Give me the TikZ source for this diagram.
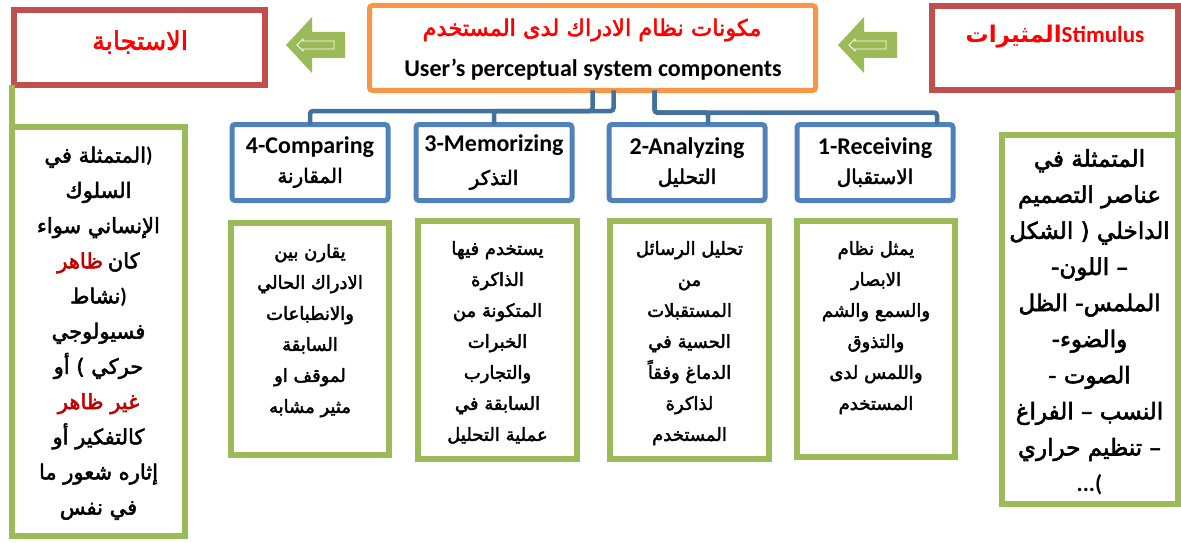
\documentclass[tikz,border=0pt]{standalone}
\usepackage{fontspec}
\usepackage{xcolor}
\usetikzlibrary{positioning,calc}
\setmainfont{Carlito}
\newfontfamily\arabicfont[Script=Arabic,FakeBold=2.4]{DejaVu Sans}
\newfontfamily\arabicthin[Script=Arabic]{DejaVu Sans}
\TeXXeTstate=1
\newcommand{\arab}[1]{{\arabicfont\beginR #1\endR}}
\definecolor{boxred}{HTML}{C0504D}
\definecolor{coreorange}{HTML}{F79646}
\definecolor{headblue}{HTML}{4F81BD}
\definecolor{busblue}{HTML}{41719C}
\definecolor{notegreen}{HTML}{9BBB59}
\definecolor{darkred}{HTML}{C00000}
\tikzset{
	redbox/.style = {draw=boxred, line width=6pt, outer sep=0pt},
	corebox/.style = {draw=coreorange, line width=5pt, rounded corners=3pt, outer sep=0pt},
	headbox/.style = {draw=headblue, line width=5pt, rounded corners=3pt, minimum width=156pt, minimum height=76pt, outer sep=0pt, inner sep=0pt, align=center, font=\fontsize{20}{29}\selectfont},
	notebox/.style = {draw=notegreen, line width=6pt, outer sep=0pt},
	notetext/.style = {align=center, inner sep=0pt, font=\fontsize{18}{31}\selectfont},
	bus/.style = {draw=busblue, line width=4.5pt, rounded corners=3pt},
	link/.style = {draw=notegreen, line width=6pt},
	leftarrow/.pic = {
		\fill [notegreen] (0,0) -- (26,-28) -- (26,-13) -- (59,-13) -- (59,13) -- (26,13) -- (26,28) -- cycle;
		\draw [white, line width=0.8pt] (11,0) -- (17,-6) -- (17,-4) -- (48,-4) -- (48,4) -- (17,4) -- (17,6) -- cycle;
	}
}

\begin{document}
\begin{tikzpicture}[x=1pt, y=-1pt]
	\useasboundingbox (0,0) rectangle (1181,543);
	
	% top row
	\node [redbox, minimum width=251pt, minimum height=75pt] (resp) at (139.5,47.5) {};
	\node [text=red, font=\fontsize{25.5}{25.5}\selectfont] (respt) at (140,42) {\arab{الاستجابة}};
	
	\node [corebox, minimum width=446pt, minimum height=85pt] (core) at (592.5,48) {};
	\node [text=red, font=\fontsize{22.5}{22.5}\selectfont] (coret) at (592,30) {\arab{مكونات نظام الادراك لدى المستخدم}};
	\node [font=\bfseries\fontsize{24}{24}\selectfont] (coree) at (593,70) {User's perceptual system components};
	
	\node [redbox, minimum width=246pt, minimum height=84pt] (stim) at (1054.75,48) {};
	\node [text=red, font=\bfseries\fontsize{23}{23}\selectfont] (stimt) at (1055,37) {{\arabicthin\beginR المثيرات\endR}Stimulus};
	
	\pic at ([xshift=21pt,yshift=2.5pt]resp.east) {leftarrow};
	\pic at ([xshift=22.5pt,yshift=3pt]core.east) {leftarrow};
	
	% components
	\node [headbox] (b4) at (310,162.5) {{\bfseries\fontsize{24}{29}\selectfont 4-Comparing}\\ \arab{المقارنة}};
	\node [headbox] (b3) at (494,162.5) {{\bfseries\fontsize{24}{29}\selectfont 3-Memorizing}\\[4pt] \arab{التذكر}};
	\node [headbox] (b2) at (687,162.5) {{\bfseries\fontsize{24}{29}\selectfont 2-Analyzing}\\ \arab{التحليل}};
	\node [headbox] (b1) at (875,162.5) {{\bfseries\fontsize{24}{29}\selectfont 1-Receiving}\\ \arab{الاستقبال}};
	
	\draw [bus] (core.south) |- ([yshift=13.5pt]b4.north) -- (b4.north);
	\draw [bus] ([xshift=21pt]core.south) |- ([yshift=13.5pt]b3.north) -- (b3.north);
	\draw [bus] ([xshift=62pt]core.south) |- ([xshift=21pt,yshift=12pt]b2.north) -- ([xshift=21pt]b2.north);
	\draw [bus] ([xshift=62pt]core.south) |- ([xshift=62pt,yshift=12pt]b1.north) -- ([xshift=62pt]b1.north);
	
	% notes
	\node [notebox, minimum width=158pt, minimum height=232pt] (g4) at (310,339) {};
	\node [notetext, below=21pt of g4.north] (g4t) {\arab{يقارن بين}\\ \arab{الادراك الحالي}\\ \arab{والانطباعات}\\ \arab{السابقة}\\ \arab{لموقف او}\\ \arab{مثير مشابه}};
	
	\node [notebox, minimum width=159pt, minimum height=238pt] (g3) at (497.5,340) {};
	\node [notetext, below=20pt of g3.north] (g3t) {\arab{يستخدم فيها}\\ \arab{الذاكرة}\\ \arab{المتكونة من}\\ \arab{الخبرات}\\ \arab{والتجارب}\\ \arab{السابقة في}\\ \arab{عملية التحليل}};
	
	\node [notebox, minimum width=159pt, minimum height=238pt] (g2) at (689.5,340) {};
	\node [notetext, below=20pt of g2.north] (g2t) {\arab{تحليل الرسائل}\\ \arab{من}\\ \arab{المستقبلات}\\ \arab{الحسية في}\\ \arab{الدماغ وفقاً}\\ \arab{لذاكرة}\\ \arab{المستخدم}};
	
	\node [notebox, minimum width=158pt, minimum height=236pt] (g1) at (876,339) {};
	\node [notetext, below=20pt of g1.north] (g1t) {\arab{يمثل نظام}\\ \arab{الابصار}\\ \arab{والسمع والشم}\\ \arab{والتذوق}\\ \arab{واللمس لدى}\\ \arab{المستخدم}};
	
	% side notes
	\node [notebox, minimum width=173pt, minimum height=409pt] (lbox) at (98.5,331) {};
	\node [notetext, font=\fontsize{21}{35.2}\selectfont, below=20pt of lbox.north] (lboxt) {\arab{المتمثلة في}{\bfseries)}\\ \arab{السلوك}\\ \arab{الإنساني سواء}\\ {\color{darkred}\arab{ظاهر}} \arab{كان}\\ \arab{نشاط}{\bfseries)}\\ \arab{فسيولوجي}\\ \arab{حركي ) أو}\\ {\color{darkred}\arab{غير ظاهر}}\\ \arab{كالتفكير أو}\\ \arab{إثاره شعور ما}\\ \arab{في نفس}};
	
	\node [notebox, minimum width=176pt, minimum height=369pt] (rbox) at (1089.5,319.5) {};
	\node [notetext, font=\fontsize{23}{36.1}\selectfont, below=14pt of rbox.north] (rboxt) {\arab{المتمثلة في}\\ \arab{عناصر التصميم}\\ \arab{الداخلي ( الشكل}\\ \arab{– اللون-}\\ \arab{الملمس- الظل}\\ \arab{والضوء-}\\ \arab{الصوت -}\\ \arab{النسب – الفراغ}\\ \arab{– تنظيم حراري}\\ {\bfseries ...(}};
	
	\draw [link] (lbox.north west) -- (lbox.north west |- resp.south);
	\draw [link] (rbox.north east) -- (rbox.north east |- stim.south);
\end{tikzpicture}
\end{document}
